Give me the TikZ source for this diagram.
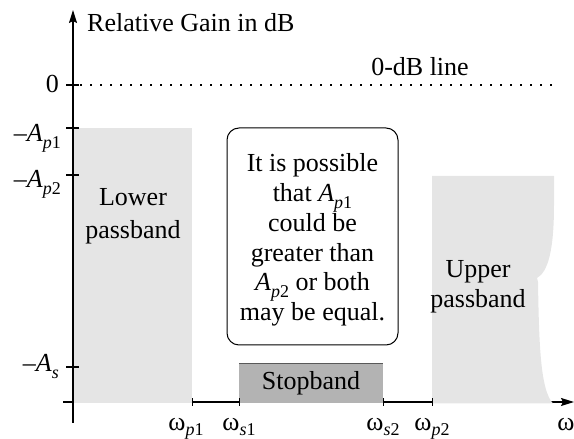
\documentclass[tikz,border=0pt]{standalone}
\usepackage{fontspec}
\setmainfont{Liberation Serif}
\usetikzlibrary{arrows.meta}
\definecolor{lightband}{HTML}{E5E5E5}
\definecolor{stopgray}{HTML}{B3B3B3}
\newcommand\lsub[1]{\raisebox{-7pt}{\fontsize{18}{18}\selectfont #1}}
\newcommand\wsub[1]{\raisebox{-5.5pt}{\fontsize{18}{18}\selectfont #1}}
\tikzset{
  axisline/.style={line width=1.3pt,-{Stealth[length=13pt,width=8pt,inset=2pt]}},
  tickline/.style={line width=1.3pt},
  lbl/.style={inner sep=0pt,font=\fontsize{26}{30}\selectfont},
  bandfill/.style={fill=lightband,draw=none},
}
\begin{document}
\begin{tikzpicture}[x=1pt,y=1pt]
\useasboundingbox (0,0) rectangle (574,439);
% axes end points
\coordinate (xo) at (63,37);
\coordinate (xe) at (574,37);
\coordinate (yo) at (73,16);
\coordinate (ye) at (73,429);
% horizontal axis (partly hidden by the bands)
\draw[axisline] (xo) -- (xe);
% lower passband
\fill[lightband] (73,35.5) rectangle (192,311);
% upper passband
\fill[lightband] (432,35.5) -- (432,263) -- (554,263) -- (554,234)
  .. controls (554,189) and (548,167) .. (537,161) -- (538,157)
  .. controls (539,99) and (540,49) .. (553,35.5) -- cycle;
% stopband
\node[lbl,fill=stopgray,minimum width=144pt,minimum height=39.5pt,anchor=south west] (stop) at (239,35.5) {};
\draw[line width=1pt,draw=black!65] (stop.north west) -- (stop.north east);
\node[lbl] (stoptxt) at (311,56) {Stopband};
% vertical axis
\draw[axisline] (yo) -- (ye);
% 0 dB line
\coordinate (z0) at (80,354);
\coordinate (z1) at (552,354);
\draw[line width=1.6pt,dash pattern=on 1.6pt off 8.4pt] (z0) -- (z1);
\node[lbl,anchor=base] (zdb) at (420,363) {0-dB line};
% y ticks
\foreach \yy/\nm in {354/t0,311/tp1,264/tp2,72/ts}{
  \coordinate (\nm a) at (66,\yy);
  \coordinate (\nm b) at (79,\yy);
  \draw[tickline] (\nm a) -- (\nm b);
}
% x ticks
\foreach \xx/\nm in {192/wp1,239/ws1,383/ws2,432/wp2}{
  \coordinate (\nm a) at (\xx,33);
  \coordinate (\nm b) at (\xx,41);
  \draw[line width=1pt] (\nm a) -- (\nm b);
}
% y labels
\node[lbl,anchor=base east] (l0) at (59,346) {0};
\node[lbl,anchor=base east] (lap1) at (61,297) {–\textit{A}\lsub{\textit{p}1}};
\node[lbl,anchor=base east] (lap2) at (61,251) {–\textit{A}\lsub{\textit{p}2}};
\node[lbl,anchor=base east] (las) at (59,67) {–\textit{A}\lsub{\textit{s}}};
% x labels
\node[lbl,anchor=base] (lwp1) at (186,8.5) {ω\wsub{\textit{p}1}};
\node[lbl,anchor=base] (lws1) at (239,8.5) {ω\wsub{\textit{s}1}};
\node[lbl,anchor=base] (lws2) at (383,8.5) {ω\wsub{\textit{s}2}};
\node[lbl,anchor=base] (lwp2) at (432,8.5) {ω\wsub{\textit{p}2}};
\node[lbl,anchor=base] (lw) at (566,8.5) {ω};
% title
\node[lbl,anchor=base west] (title) at (87,407) {Relative Gain in dB};
% band labels
\node[lbl,align=center,font=\fontsize{26}{33}\selectfont] (lower) at (133,223) {Lower\\passband};
\node[lbl,align=center,font=\fontsize{26}{30}\selectfont] (upper) at (478,152.5) {Upper\\passband};
% note box
\node[draw,line width=1pt,rounded corners=12pt,minimum width=171pt,minimum height=217pt,inner sep=0pt] (note) at (312.5,202.5) {};
\node[lbl,align=center,font=\fontsize{26}{29.8}\selectfont] (notetxt) at (312.5,199) {It is possible\\that \textit{A}\lsub{\textit{p}1}\\could be\\greater than\\\textit{A}\lsub{\textit{p}2} or both\\may be equal.};
\end{tikzpicture}
\end{document}
